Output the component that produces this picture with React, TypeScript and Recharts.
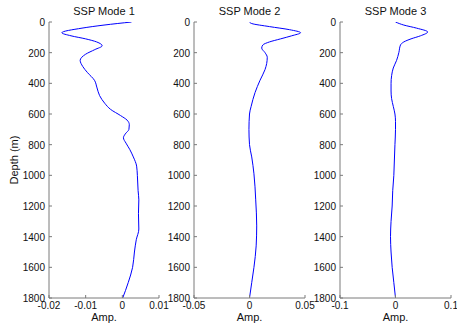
import React from 'react';
import { LineChart, Line, XAxis, YAxis } from 'recharts';

const titles = ['SSP Mode 1', 'SSP Mode 2', 'SSP Mode 3'];
const yLabel = 'Depth (m)';
const xLabel = 'Amp.';
const depthTicks = [0, 200, 400, 600, 800, 1000, 1200, 1400, 1600, 1800];

const ampTicks1 = [-0.02, -0.01, 0, 0.01];
const ampTicks2 = [-0.05, 0, 0.05];
const ampTicks3 = [-0.1, 0, 0.1];

const depth1 = [0, 20, 40, 70, 90, 110, 130, 155, 180, 210, 250, 290, 330, 380, 430, 480, 530, 570, 610, 640, 670, 700, 730, 755, 790, 830, 880, 940, 1000, 1100, 1160, 1250, 1350, 1420, 1500, 1600, 1700, 1800];
const amp1 = [0.0025, -0.005, -0.011, -0.0165, -0.014, -0.01, -0.007, -0.0055, -0.0075, -0.01, -0.0115, -0.0108, -0.0095, -0.0076, -0.0069, -0.0062, -0.0048, -0.0032, -0.0005, 0.0013, 0.0019, 0.0018, 0.0008, 0.0003, 0.001, 0.002, 0.003, 0.0039, 0.0041, 0.0043, 0.0045, 0.0044, 0.0045, 0.0038, 0.0033, 0.0028, 0.0016, 0.0001];

const depth2 = [0, 10, 30, 50, 70, 90, 110, 130, 150, 170, 200, 230, 270, 310, 380, 460, 550, 600, 700, 800, 880, 990, 1160, 1330, 1460, 1600, 1700, 1800];
const amp2 = [0, 0.002, 0.018, 0.036, 0.046, 0.038, 0.028, 0.018, 0.012, 0.011, 0.014, 0.016, 0.0155, 0.014, 0.0095, 0.005, 0.0015, 0, -0.0005, 0, 0.002, 0.004, 0.0056, 0.0065, 0.006, 0.004, 0.002, 0];

const depth3 = [0, 20, 40, 65, 90, 110, 130, 150, 200, 250, 300, 350, 400, 450, 500, 550, 600, 650, 700, 800, 900, 1000, 1100, 1200, 1300, 1400, 1500, 1600, 1700, 1800];
const amp3 = [0, 0.015, 0.038, 0.058, 0.045, 0.028, 0.015, 0.009, 0.006, 0.002, -0.004, -0.007, -0.008, -0.008, -0.007, -0.004, -0.001, 0, 0, -0.001, -0.002, -0.003, -0.005, -0.006, -0.008, -0.009, -0.008, -0.006, -0.003, 0];

const FONT = 'Liberation Sans, Arial, Helvetica, sans-serif';
const AXIS = '#7a7a7a';
const TXT = '#111';
const TL = 3;
const RM = 20;

const BottomTick = (props: any) => {
  const { x, y, payload } = props;
  return (
    <g>
      <line x1={x} y1={y} x2={x} y2={y - TL} stroke={AXIS} />
      <text x={x} y={y + 11} textAnchor="middle" fontSize={10} fontFamily={FONT} fill={TXT}>{String(payload.value)}</text>
    </g>
  );
};
const TopTick = (props: any) => {
  const { x, y } = props;
  return <line x1={x} y1={y} x2={x} y2={y + TL} stroke={AXIS} />;
};
const LeftTick = (props: any) => {
  const { x, y, payload } = props;
  return (
    <g>
      <line x1={x} y1={y} x2={x + TL} y2={y} stroke={AXIS} />
      <text x={x - 4} y={y + 4} textAnchor="end" fontSize={10} fontFamily={FONT} fill={TXT}>{String(payload.value)}</text>
    </g>
  );
};
const RightTick = (props: any) => {
  const { x, y } = props;
  return <line x1={x} y1={y} x2={x - TL} y2={y} stroke={AXIS} />;
};

type PanelProps = { left: number; width: number; depth: number[]; amp: number[]; ticks: number[] };

const Panel = ({ left, width, depth, amp, ticks }: PanelProps) => {
  const data = depth.map((d, i) => ({ depth: d, amp: amp[i] }));
  const dom: [number, number] = [ticks[0], ticks[ticks.length - 1]];
  return (
    <div style={{ position: 'absolute', left, top: 0 }}>
      <LineChart width={width + RM} height={326} data={data} layout="vertical" margin={{ top: 22, right: RM, bottom: 0, left: 0 }}>
        <XAxis xAxisId="b" type="number" dataKey="amp" domain={dom} ticks={ticks} allowDataOverflow orientation="bottom" height={28} tickSize={0} tickMargin={0} tickLine={false} axisLine={{ stroke: AXIS }} tick={<BottomTick />} interval={0} />
        <XAxis xAxisId="t" type="number" dataKey="amp" domain={dom} ticks={ticks} allowDataOverflow orientation="top" height={0} tickSize={0} tickMargin={0} tickLine={false} axisLine={{ stroke: AXIS }} tick={<TopTick />} interval={0} />
        <YAxis yAxisId="l" type="number" dataKey="depth" domain={[0, 1800]} ticks={depthTicks} allowDataOverflow orientation="left" width={40} tickSize={0} tickMargin={0} tickLine={false} axisLine={{ stroke: AXIS }} tick={<LeftTick />} interval={0} />
        <YAxis yAxisId="r" type="number" dataKey="depth" domain={[0, 1800]} ticks={depthTicks} allowDataOverflow orientation="right" width={0} tickSize={0} tickMargin={0} tickLine={false} axisLine={{ stroke: AXIS }} tick={<RightTick />} interval={0} />
        <Line xAxisId="b" yAxisId="l" type="monotone" dataKey="amp" stroke="#0000ff" strokeWidth={1} dot={false} activeDot={false} isAnimationActive={false} />
      </LineChart>
    </div>
  );
};

const panels = [
  { left: 9, width: 150, depth: depth1, amp: amp1, ticks: ampTicks1 },
  { left: 154, width: 151, depth: depth2, amp: amp2, ticks: ampTicks2 },
  { left: 300, width: 151, depth: depth3, amp: amp3, ticks: ampTicks3 },
];

export default function App() {
  return (
    <div style={{ position: 'absolute', left: 0, top: 0, width: 457, height: 326, background: '#fff', overflow: 'hidden' }}>
      {panels.map((p, i) => (
        <Panel key={i} {...p} />
      ))}
      <svg width={457} height={326} style={{ position: 'absolute', left: 0, top: 0, pointerEvents: 'none' }}>
        {panels.map((p, i) => {
          const cx = p.left + 40 + (p.width - 40) / 2;
          return (
            <g key={i}>
              <text x={cx} y={14.5} textAnchor="middle" fontSize={11} fontFamily={FONT} fill={TXT}>{titles[i]}</text>
              <text x={cx} y={321} textAnchor="middle" fontSize={11} fontFamily={FONT} fill={TXT}>{xLabel}</text>
            </g>
          );
        })}
        <text x={17.5} y={160} transform="rotate(-90 17.5 160)" textAnchor="middle" fontSize={11} fontFamily={FONT} fill={TXT}>{yLabel}</text>
      </svg>
    </div>
  );
}
